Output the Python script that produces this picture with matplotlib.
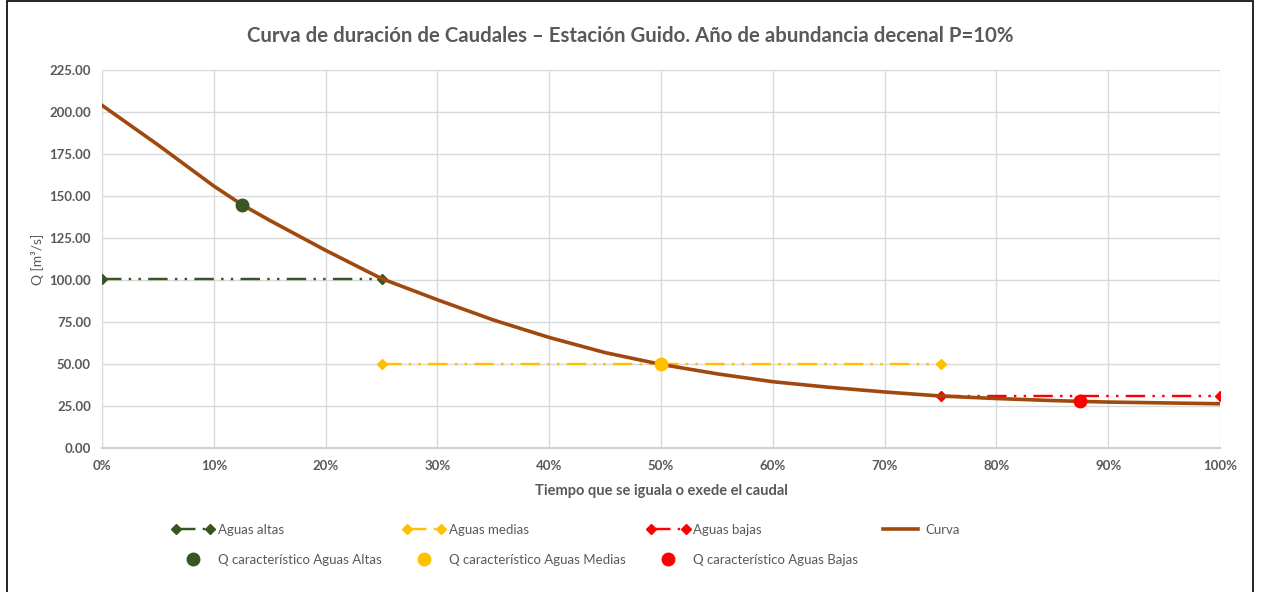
import matplotlib.pyplot as plt
from matplotlib.patches import Rectangle
from matplotlib.legend_handler import HandlerLine2D
from matplotlib.ticker import FuncFormatter, MultipleLocator

plt.rcParams['font.family'] = ['Lato', 'DejaVu Sans']

# curva de duracion (fraccion de tiempo, caudal m3/s)
curva_x = [0.0, 0.05, 0.10, 0.125, 0.15, 0.20, 0.25, 0.30, 0.35, 0.40, 0.45, 0.50,
           0.55, 0.60, 0.65, 0.70, 0.75, 0.80, 0.85, 0.875, 0.90, 0.95, 1.0]
curva_q = [204.0, 180.5, 156.0, 145.0, 135.6, 117.8, 101.0, 88.4, 76.4, 66.0, 57.0, 50.0,
           44.4, 39.7, 36.4, 33.6, 31.2, 29.7, 28.5, 28.0, 27.6, 27.1, 26.6]

# rangos de aguas altas / medias / bajas
altas_x, altas_q = [0.0, 0.25], [101.0, 101.0]
medias_x, medias_q = [0.25, 0.75], [50.0, 50.0]
bajas_x, bajas_q = [0.75, 1.0], [31.5, 31.5]

# caudales caracteristicos
q_car_x = [0.125, 0.50, 0.875]
q_car_q = [145.0, 50.0, 28.0]

verde = '#375623'
amarillo = '#FFC000'
rojo = '#FF0000'
marron = '#A0490E'
gris = '#595959'

fig = plt.figure(figsize=(12.61, 5.92), dpi=100)
ax = fig.add_axes([0.0809, 0.2424, 0.8866, 0.6394])

dash = (0, (8, 3, 1, 3, 1, 3))
h_altas, = ax.plot(altas_x, altas_q, color=verde, lw=1.75, ls=dash, marker='D', ms=5, label='Aguas altas')
h_medias, = ax.plot(medias_x, medias_q, color=amarillo, lw=1.75, ls=dash, marker='D', ms=5, label='Aguas medias')
h_bajas, = ax.plot(bajas_x, bajas_q, color=rojo, lw=1.75, ls=dash, marker='D', ms=5, label='Aguas bajas')
h_curva, = ax.plot(curva_x, curva_q, color=marron, lw=2.6, label='Curva', zorder=3)

nombres = ['Q característico Aguas Altas', 'Q característico Aguas Medias', 'Q característico Aguas Bajas']
h_q = []
for x, q, c, n in zip(q_car_x, q_car_q, [verde, amarillo, rojo], nombres):
    h, = ax.plot([x], [q], ls='none', marker='o', ms=9, color=c, label=n, zorder=4)
    h_q.append(h)

ax.set_xlim(0, 1)
ax.set_ylim(0, 225)
ax.xaxis.set_major_locator(MultipleLocator(0.1))
ax.yaxis.set_major_locator(MultipleLocator(25))
ax.xaxis.set_major_formatter(FuncFormatter(lambda v, p: f"{v * 100:.0f}%"))
ax.yaxis.set_major_formatter(FuncFormatter(lambda v, p: f"{v:.2f}"))
ax.grid(True, color='#D9D9D9', lw=1)
ax.set_axisbelow(True)
for s in ['top', 'right', 'left']:
    ax.spines[s].set_visible(False)
ax.spines['bottom'].set_color('#D0D0D0')
ax.spines['bottom'].set_linewidth(1.5)
ax.tick_params(length=0, labelcolor=gris, labelsize=9.5, pad=8)
for lbl in ax.get_xticklabels() + ax.get_yticklabels():
    lbl.set_fontweight('bold')

ax.set_xlabel('Tiempo que se iguala o exede el caudal', fontsize=10.5, fontweight='bold', color=gris, labelpad=9)
ax.set_ylabel('Q [m³/s]', fontsize=10, color=gris, labelpad=4)

fig.text(0.5, 0.940, 'Curva de duración de Caudales – Estación Guido. Año de abundancia decenal P=10%',
         ha='center', va='center', fontsize=14.7, fontweight='bold', color=gris)

handles = [h_altas, h_q[0], h_medias, h_q[1], h_bajas, h_q[2], h_curva]
un_punto = {h: HandlerLine2D(numpoints=1) for h in h_q}
leg = fig.legend(handles=handles, labels=[h.get_label() for h in handles], ncol=4,
                 loc='upper center', bbox_to_anchor=(0.449, 0.135), frameon=False,
                 fontsize=9.5, handlelength=3.2, columnspacing=1.6, labelspacing=1.35,
                 handletextpad=0.3, numpoints=2, handler_map=un_punto)
for t in leg.get_texts():
    t.set_color(gris)

fig.patches.append(Rectangle((0.0056, -0.1), 0.988, 1.0979, transform=fig.transFigure,
                             fill=False, edgecolor='black', lw=1.2))

fig.savefig('out.png', dpi=100)
